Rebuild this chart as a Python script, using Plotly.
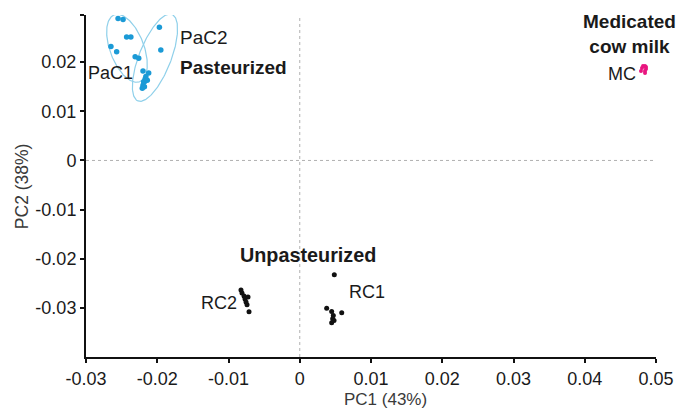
import numpy as np
import plotly.graph_objects as go

# PCA scores (PC1, PC2) per sample group
pac1_x = [-0.0255, -0.0248, -0.0243, -0.0237, -0.0265, -0.0257, -0.0231, -0.0226, -0.0218, -0.0220]
pac1_y = [0.0289, 0.0287, 0.0251, 0.0251, 0.0232, 0.0221, 0.0211, 0.0208, 0.0160, 0.0153]

pac2_x = [-0.0197, -0.0195, -0.0220, -0.0212, -0.0216, -0.0217, -0.0219, -0.0221, -0.0214, -0.0218]
pac2_y = [0.0271, 0.0225, 0.0182, 0.0178, 0.0171, 0.0166, 0.0160, 0.0147, 0.0163, 0.0150]

rc1_x = [0.00485, 0.00378, 0.00448, 0.00589, 0.00471, 0.00462, 0.00448, 0.00481]
rc1_y = [-0.02326, -0.03006, -0.03075, -0.03101, -0.03156, -0.03223, -0.03304, -0.03257]

rc2_x = [-0.00825, -0.00811, -0.00782, -0.00768, -0.00754, -0.00740, -0.00726, -0.00712]
rc2_y = [-0.02636, -0.02696, -0.02757, -0.02818, -0.02879, -0.02939, -0.02777, -0.03081]

mc_x = [0.04789, 0.04803, 0.04818, 0.04846, 0.04860, 0.04860, 0.04846, 0.04846]
mc_y = [0.01822, 0.01883, 0.01923, 0.01923, 0.01903, 0.01862, 0.01822, 0.01781]

# group ellipses: centre, major semi-axis vector, conjugate minor semi-axis vector (data units)
pac1_ellipse = dict(center=(-0.02425, 0.02283), major=(0.001772, -0.006822), minor=(0.002235, 0.001205))
pac2_ellipse = dict(center=(-0.02032, 0.02091), major=(-0.002386, -0.008806), minor=(0.002091, -0.001174))

x_ticks = [-0.03, -0.02, -0.01, 0, 0.01, 0.02, 0.03, 0.04, 0.05]
x_labels = ["-0.03", "-0.02", "-0.01", "0", "0.01", "0.02", "0.03", "0.04", "0.05"]
y_ticks = [-0.03, -0.02, -0.01, 0, 0.01, 0.02]
y_labels = ["-0.03", "-0.02", "-0.01", "0", "0.01", "0.02"]

X_RANGE = [-0.03, 0.05]
Y_RANGE = [-0.0400, 0.0296]

BLUE = "#1b9ad6"
ELLIPSE = "#8fd0ea"
MAGENTA = "#e8157f"
FONT = "Liberation Sans, Arial, sans-serif"


def ellipse_path(e, n=200):
    t = np.linspace(0, 2 * np.pi, n)
    cx, cy = e["center"]
    ax, ay = e["major"]
    bx, by = e["minor"]
    return cx + ax * np.cos(t) + bx * np.sin(t), cy + ay * np.cos(t) + by * np.sin(t)


fig = go.Figure()

for e in (pac1_ellipse, pac2_ellipse):
    ex, ey = ellipse_path(e)
    fig.add_trace(go.Scatter(x=ex, y=ey, mode="lines",
                             line=dict(color=ELLIPSE, width=1.2),
                             hoverinfo="skip", showlegend=False))

fig.add_trace(go.Scatter(x=pac1_x + pac2_x, y=pac1_y + pac2_y, mode="markers",
                         marker=dict(color=BLUE, size=5.5), showlegend=False))
fig.add_trace(go.Scatter(x=rc1_x + rc2_x, y=rc1_y + rc2_y, mode="markers",
                         marker=dict(color="#111111", size=5), showlegend=False))
fig.add_trace(go.Scatter(x=mc_x, y=mc_y, mode="markers",
                         marker=dict(color=MAGENTA, size=4), showlegend=False))

# dotted reference lines through the origin
fig.add_shape(type="line", x0=0, x1=0, y0=Y_RANGE[0], y1=Y_RANGE[1],
              line=dict(color="#b0b0b0", width=1, dash="dot"), layer="below")
fig.add_shape(type="line", x0=X_RANGE[0], x1=X_RANGE[1], y0=0, y1=0,
              line=dict(color="#b0b0b0", width=1, dash="dot"), layer="below")

plain = dict(family=FONT, size=18, color="#1a1a1a")
bold = dict(family=FONT, size=19, color="#1a1a1a", weight="bold")

labels = [
    ("PaC2", -0.0171, 0.0251, "left", plain, 19),
    ("Pasteurized", -0.0171, 0.0190, "left", bold, 19),
    ("PaC1", -0.0300, 0.0178, "left", plain, 18),
    ("Medicated<br>cow milk", 0.0463, 0.0258, "center", bold, 19),
    ("MC", 0.0430, 0.0176, "left", plain, 18),
    ("Unpasteurized", -0.0087, -0.0193, "left", bold, 19.8),
    ("RC2", -0.0142, -0.0290, "left", plain, 18),
    ("RC1", 0.0066, -0.0268, "left", plain, 18),
]
for text, x, y, anchor, font, size in labels:
    fig.add_annotation(x=x, y=y, text=text, showarrow=False, xanchor=anchor,
                       yanchor="middle", font=dict(font, size=size))

# axis titles
fig.add_annotation(xref="paper", yref="paper", x=0.525, y=-0.124, text="PC1 (43%)",
                   showarrow=False, xanchor="center", yanchor="middle",
                   font=dict(family=FONT, size=17, color="#3a3a3a"))
fig.add_annotation(xref="paper", yref="paper", x=-0.112, y=0.5, text="PC2 (38%)",
                   showarrow=False, textangle=-90, xanchor="center", yanchor="middle",
                   font=dict(family=FONT, size=17.5, color="#3a3a3a"))

axis_common = dict(showgrid=False, zeroline=False, showline=True, linecolor="#111111",
                   linewidth=2, ticks="outside", ticklen=4, tickwidth=1.5,
                   tickcolor="#111111", tickfont=dict(family=FONT, size=18, color="#1a1a1a"),
                   fixedrange=True)

fig.update_layout(
    width=686, height=410,
    margin=dict(l=86, r=30, t=15, b=53),
    paper_bgcolor="white", plot_bgcolor="white",
    xaxis=dict(range=X_RANGE, tickvals=x_ticks, ticktext=x_labels, **axis_common),
    yaxis=dict(range=Y_RANGE, tickvals=y_ticks + [Y_RANGE[1]], ticktext=y_labels + [""],
               **axis_common),
)

fig.write_html("out.html")
